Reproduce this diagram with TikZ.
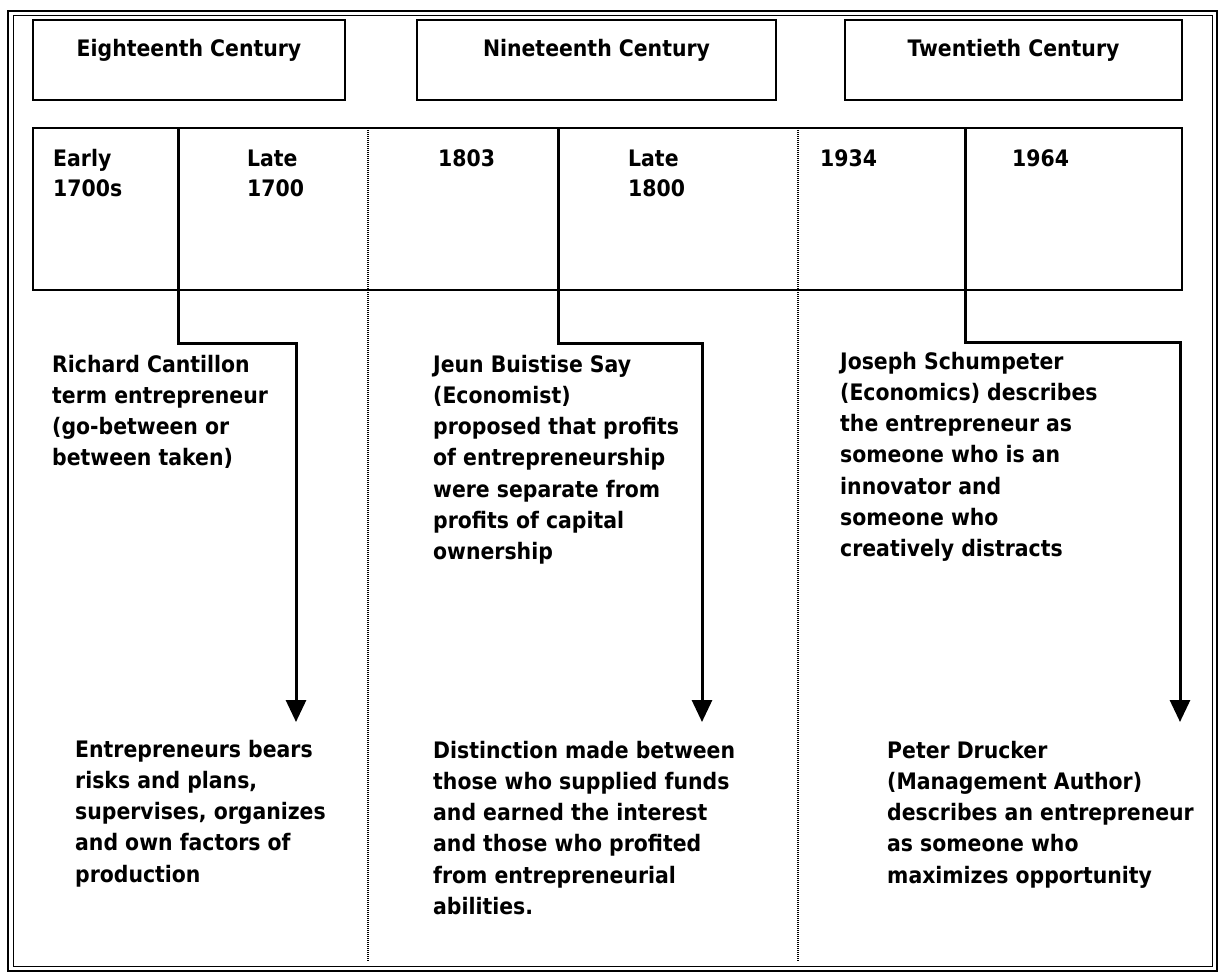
\documentclass[tikz,border=0pt]{standalone}
\usepackage{fontspec}
\setmainfont{DejaVu Sans Condensed}
\usetikzlibrary{arrows.meta}
\begin{document}
\begin{tikzpicture}[x=1pt,y=-1pt,
  frame/.style={draw=black,line width=2.6pt},
  erabox/.style={frame,minimum height=80pt,inner sep=0pt,outer sep=0pt},
  eratext/.style={anchor=base,inner sep=0pt,font=\fontsize{22.7}{29.5}\selectfont\bfseries},
  % multi-line nodes are anchored at the baseline of their last line
  yeartext/.style={anchor=base west,align=left,inner sep=0pt,font=\fontsize{22.7}{29.5}\selectfont\bfseries},
  body/.style={anchor=base west,align=left,inner sep=0pt,font=\fontsize{22.7}{31.3}\selectfont\bfseries},
  conn/.style={draw=black,line width=3pt},
  arrowconn/.style={conn,-{Triangle[width=20pt,length=22pt]}},
  sep/.style={draw=black,line width=1.1pt,dash pattern=on 1pt off 1pt}
]
\useasboundingbox (0,0) rectangle (1224,979);

% page frame (double rule)
\draw[line width=2.4pt] (8,11) rectangle (1217,971);
\draw[line width=0.9pt] (13,15) rectangle (1212,966);

% century headings
\node[erabox,minimum width=312pt] (c18) at (189,60) {};
\node[erabox,minimum width=359pt] (c19) at (596.5,60) {};
\node[erabox,minimum width=337pt] (c20) at (1013.5,60) {};
\node[eratext] (c18t) at (189,57) {Eighteenth Century};
\node[eratext] (c19t) at (596.5,57) {Nineteenth Century};
\node[eratext] (c20t) at (1013.5,57) {Twentieth Century};

% timeline strip
\node[frame,minimum width=1149pt,minimum height=162pt,inner sep=0pt,outer sep=0pt] (tl) at (607.5,209) {};

% century separators
\coordinate (s1) at (368,962);
\coordinate (s2) at (798,962);
\draw[sep] (tl.north -| s1) -- (s1);
\draw[sep] (tl.north -| s2) -- (s2);

% dates
\node[yeartext] (y1) at (53,196.5) {Early\\1700s};
\node[yeartext] (y2) at (247,196.5) {Late\\1700};
\node[yeartext] (y3) at (438,167) {1803};
\node[yeartext] (y4) at (628,196.5) {Late\\1800};
\node[yeartext] (y5) at (820,167) {1934};
\node[yeartext] (y6) at (1012,167) {1964};

% descriptions
\node[body] (rc) at (52,465.9) {Richard Cantillon\\term entrepreneur\\(go-between or\\between taken)};
\node[body] (js) at (433,559.8) {Jeun Buistise Say\\(Economist)\\proposed that profits\\of entrepreneurship\\were separate from\\profits of capital\\ownership};
\node[body] (sc) at (840,556.8) {Joseph Schumpeter\\(Economics) describes\\the entrepreneur as\\someone who is an\\innovator and\\someone who\\creatively distracts};
\node[body] (eb) at (75,882.2) {Entrepreneurs bears\\risks and plans,\\supervises, organizes\\and own factors of\\production};
\node[body] (dm) at (433,914.5) {Distinction made between\\those who supplied funds\\and earned the interest\\and those who profited\\from entrepreneurial\\abilities.};
\node[body] (pd) at (887,883.2) {Peter Drucker\\(Management Author)\\describes an entrepreneur\\as someone who\\maximizes opportunity};

% stepped connectors from the strip down to the later events
\coordinate (b1) at (178,343);
\coordinate (t1) at (296,722);
\coordinate (b2) at (558,343);
\coordinate (t2) at (702,722);
\coordinate (b3) at (965,342);
\coordinate (t3) at (1180,722);
\draw[arrowconn] (tl.north -| b1) -- (b1) -| (t1);
\draw[arrowconn] (tl.north -| b2) -- (b2) -| (t2);
\draw[arrowconn] (tl.north -| b3) -- (b3) -| (t3);
\end{tikzpicture}
\end{document}
